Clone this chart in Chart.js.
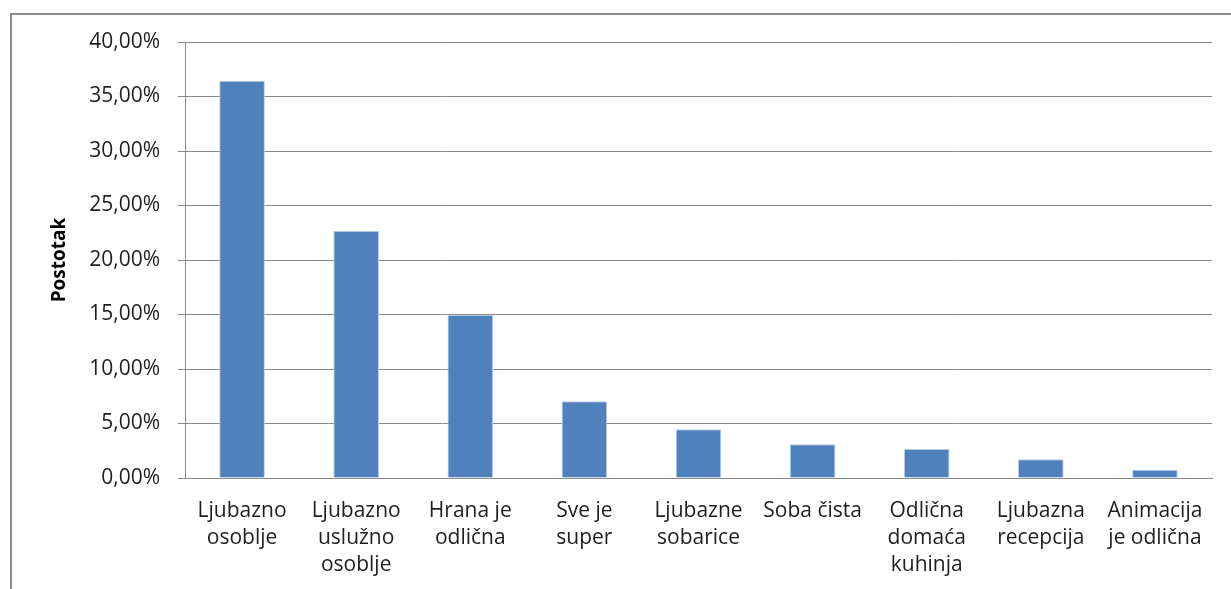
<!DOCTYPE html>
<html>
<head>
<meta charset="utf-8">
<script src="https://cdn.jsdelivr.net/npm/chart.js@4/dist/chart.umd.min.js"></script>
<style>
  html, body { margin: 0; padding: 0; background: #fff; overflow: hidden; }
  #frame { position: absolute; left: 10px; top: 13px; width: 1400px; height: 800px; border: 2px solid #8c8c8c; }
  #wrap { position: absolute; left: 0; top: 0; width: 1231px; height: 589px; }
</style>
</head>
<body>
<div id="frame"></div>
<div id="wrap"><canvas id="c"></canvas></div>
<script>
const categories = [
  ["Ljubazno", "osoblje"],
  ["Ljubazno", "uslužno", "osoblje"],
  ["Hrana je", "odlična"],
  ["Sve je", "super"],
  ["Ljubazne", "sobarice"],
  ["Soba čista"],
  ["Odlična", "domaća", "kuhinja"],
  ["Ljubazna", "recepcija"],
  ["Animacija", "je odlična"]
];
const values = [36.45, 22.69, 14.95, 7.04, 4.47, 3.09, 2.66, 1.72, 0.76];
const yTitle = "Postotak";
const yMin = 0, yMax = 40, yStep = 5;

const FONT = "'Open Sans', 'DejaVu Sans', sans-serif";
const GRID = '#8a8a8a';
const TEXT = '#1e1e1e';

new Chart(document.getElementById('c'), {
  type: 'bar',
  data: {
    labels: categories,
    datasets: [{
      data: values,
      backgroundColor: '#4F81BD',
      borderColor: '#B9CDE5',
      borderWidth: 1,
      barPercentage: 0.4,
      categoryPercentage: 1.0
    }]
  },
  options: {
    responsive: true,
    maintainAspectRatio: false,
    animation: false,
    layout: { padding: { top: 42, right: 19, left: 0, bottom: 0 } },
    plugins: { legend: { display: false }, tooltip: { enabled: false } },
    scales: {
      x: {
        grid: { display: false },
        border: { display: true, color: GRID, width: 1 },
        ticks: {
          color: TEXT,
          font: { family: FONT, size: 21, lineHeight: 1.29 },
          maxRotation: 0, minRotation: 0, autoSkip: false,
          padding: 11
        },
        afterFit: s => { s.height = 111; }
      },
      y: {
        min: yMin, max: yMax,
        ticks: {
          stepSize: yStep,
          color: TEXT,
          font: { family: FONT, size: 21 },
          padding: 18,
          callback: v => v.toFixed(2).replace('.', ',') + '%'
        },
        grid: { color: GRID, lineWidth: 1, tickLength: 7, drawTicks: true },
        border: { display: true, color: GRID, width: 1 },
        title: {
          display: true,
          text: yTitle,
          color: '#000',
          font: { family: FONT, size: 19, weight: 'bold' },
          padding: { top: 48, bottom: 0 }
        },
        afterFit: s => { s.width = 185; }
      }
    }
  }
});
</script>
</body>
</html>
